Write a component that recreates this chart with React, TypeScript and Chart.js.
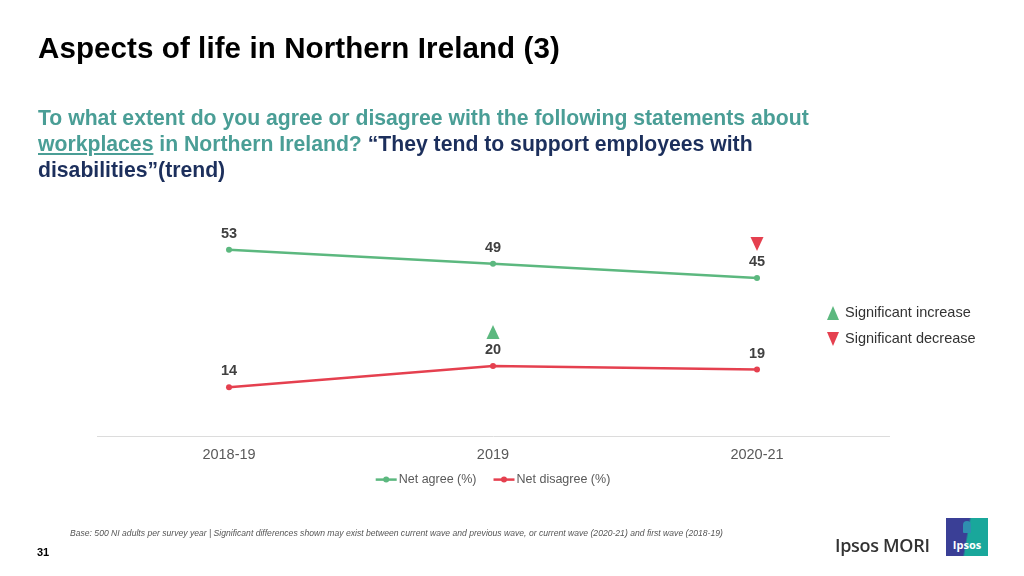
import React, { useEffect, useRef } from "react";
import { Chart, registerables } from "chart.js";

Chart.register(...registerables);

const categories = ["2018-19", "2019", "2020-21"];
const seriesNames = ["Net agree (%)", "Net disagree (%)"];
const netAgree = [53, 49, 45];
const netDisagree = [14, 20, 19];
// 1 = significant increase, -1 = significant decrease, 0 = none
const agreeSig = [0, 0, -1];
const disagreeSig = [0, 1, 0];

const GREEN = "#5cb87f";
const RED = "#e5404f";
const FONT = '"Liberation Sans", Arial, Helvetica, sans-serif';

function drawTriangle(ctx: CanvasRenderingContext2D, x: number, y: number, up: boolean, color: string) {
  const hw = 6.5;
  const hh = 7;
  ctx.fillStyle = color;
  ctx.beginPath();
  if (up) {
    ctx.moveTo(x, y - hh);
    ctx.lineTo(x + hw, y + hh);
    ctx.lineTo(x - hw, y + hh);
  } else {
    ctx.moveTo(x - hw, y - hh);
    ctx.lineTo(x + hw, y - hh);
    ctx.lineTo(x, y + hh);
  }
  ctx.closePath();
  ctx.fill();
}

const labelPlugin = {
  id: "valueLabels",
  afterDatasetsDraw(chart: any) {
    const ctx = chart.ctx as CanvasRenderingContext2D;
    const sigs = [agreeSig, disagreeSig];
    chart.data.datasets.forEach((ds: any, di: number) => {
      const meta = chart.getDatasetMeta(di);
      meta.data.forEach((pt: any, i: number) => {
        ctx.save();
        ctx.font = `bold 14.5px ${FONT}`;
        ctx.fillStyle = "#404040";
        ctx.textAlign = "center";
        ctx.textBaseline = "middle";
        ctx.fillText(String(ds.data[i]), pt.x, pt.y - 16);
        const s = sigs[di][i];
        if (s !== 0) {
          drawTriangle(ctx, pt.x, pt.y - 34, s > 0, s > 0 ? GREEN : RED);
        }
        ctx.restore();
      });
    });
  },
};

// Series key drawn under the category axis, centred on the plot
const legendPlugin = {
  id: "seriesKey",
  afterDraw(chart: any) {
    const ctx = chart.ctx as CanvasRenderingContext2D;
    const area = chart.chartArea;
    const cx = (area.left + area.right) / 2;
    const y = area.bottom + 43;
    const lineW = 21;
    const gapText = 2;
    const gapItem = 17;
    ctx.save();
    ctx.font = `12.5px ${FONT}`;
    const items = chart.data.datasets.map((ds: any) => ({
      text: ds.label as string,
      color: ds.borderColor as string,
      w: ctx.measureText(ds.label).width,
    }));
    const total = items.reduce((s: number, it: any) => s + lineW + gapText + it.w, 0) + gapItem * (items.length - 1);
    let x = cx - total / 2;
    items.forEach((it: any) => {
      ctx.strokeStyle = it.color;
      ctx.lineWidth = 2.5;
      ctx.beginPath();
      ctx.moveTo(x, y);
      ctx.lineTo(x + lineW, y);
      ctx.stroke();
      ctx.fillStyle = it.color;
      ctx.beginPath();
      ctx.arc(x + lineW / 2, y, 3, 0, Math.PI * 2);
      ctx.fill();
      ctx.fillStyle = "#595959";
      ctx.textAlign = "left";
      ctx.textBaseline = "middle";
      ctx.fillText(it.text, x + lineW + gapText, y);
      x += lineW + gapText + it.w + gapItem;
    });
    ctx.restore();
  },
};

function LineChart() {
  const ref = useRef<HTMLCanvasElement>(null);
  useEffect(() => {
    if (!ref.current) return;
    const chart = new Chart(ref.current, {
      type: "line",
      data: {
        labels: categories,
        datasets: [
          {
            label: seriesNames[0],
            data: netAgree,
            borderColor: GREEN,
            backgroundColor: GREEN,
            borderWidth: 2.5,
            pointRadius: 3,
            pointBackgroundColor: GREEN,
            pointBorderWidth: 0,
            tension: 0,
          },
          {
            label: seriesNames[1],
            data: netDisagree,
            borderColor: RED,
            backgroundColor: RED,
            borderWidth: 2.5,
            pointRadius: 3,
            pointBackgroundColor: RED,
            pointBorderWidth: 0,
            tension: 0,
          },
        ],
      },
      options: {
        animation: false,
        responsive: true,
        maintainAspectRatio: false,
        layout: { padding: { left: 97, right: 135, top: 225, bottom: 102 } },
        scales: {
          x: {
            offset: true,
            grid: { display: false, drawTicks: false },
            border: { display: true, color: "#dcdcdc", width: 1 },
            ticks: { color: "#595959", font: { family: FONT, size: 14.5 }, padding: 10 },
          },
          y: {
            display: false,
            min: 0,
            max: 60,
          },
        },
        plugins: {
          tooltip: { enabled: false },
          legend: { display: false },
        },
      },
      plugins: [labelPlugin, legendPlugin],
    });
    return () => chart.destroy();
  }, []);
  return (
    <div style={{ position: "absolute", left: 0, top: 0, width: 1024, height: 576 }}>
      <canvas ref={ref} />
    </div>
  );
}

export default function App() {
  const teal = "#4a9e96";
  const navy = "#1c2f5c";
  return (
    <div
      style={{
        position: "absolute",
        left: 0,
        top: 0,
        width: 1024,
        height: 576,
        background: "#ffffff",
        overflow: "hidden",
        fontFamily: FONT,
      }}
    >
      <LineChart />
      <div
        style={{
          position: "absolute",
          left: 38,
          top: 31,
          fontSize: 29.5,
          letterSpacing: 0.1,
          fontWeight: 700,
          color: "#000",
          whiteSpace: "nowrap",
        }}
      >
        Aspects of life in Northern Ireland (3)
      </div>
      <div
        style={{
          position: "absolute",
          left: 38,
          top: 105,
          width: 900,
          fontSize: 21.2,
          fontWeight: 700,
          lineHeight: "26px",
          color: teal,
          whiteSpace: "nowrap",
        }}
      >
        To what extent do you agree or disagree with the following statements about
        <br />
        <span style={{ textDecoration: "underline" }}>workplaces</span> in Northern Ireland?{" "}
        <span style={{ color: navy }}>“They tend to support employees with</span>
        <br />
        <span style={{ color: navy }}>disabilities”(trend)</span>
      </div>
      {/* significance key */}
      <div style={{ position: "absolute", left: 827, top: 306, width: 0, height: 0, borderLeft: "6px solid transparent", borderRight: "6px solid transparent", borderBottom: `14px solid ${GREEN}` }} />
      <div style={{ position: "absolute", left: 845, top: 304, fontSize: 14.5, color: "#333", whiteSpace: "nowrap" }}>
        Significant increase
      </div>
      <div style={{ position: "absolute", left: 827, top: 332, width: 0, height: 0, borderLeft: "6px solid transparent", borderRight: "6px solid transparent", borderTop: `14px solid ${RED}` }} />
      <div style={{ position: "absolute", left: 845, top: 330, fontSize: 14.5, color: "#333", whiteSpace: "nowrap" }}>
        Significant decrease
      </div>
      {/* footnote */}
      <div
        style={{
          position: "absolute",
          left: 70,
          top: 528,
          fontSize: 8.6,
          fontStyle: "italic",
          color: "#555",
          whiteSpace: "nowrap",
        }}
      >
        Base: 500 NI adults per survey year | Significant differences shown may exist between current wave and previous wave, or current wave (2020-21) and first wave (2018-19)
      </div>
      <div style={{ position: "absolute", left: 37, top: 546, fontSize: 11, fontWeight: 700, color: "#000" }}>31</div>
      {/* logos */}
      <div
        style={{
          position: "absolute",
          left: 835,
          top: 533,
          fontSize: 18,
          fontWeight: 600,
          fontFamily: '"Open Sans", sans-serif',
          color: "#333",
          whiteSpace: "nowrap",
          letterSpacing: -0.3,
        }}
      >
        Ipsos MORI
      </div>
      <div
        style={{
          position: "absolute",
          left: 946,
          top: 518,
          width: 42,
          height: 38,
          background: "linear-gradient(100deg, #3a3f96 0%, #3a3f96 48%, #19a79b 52%, #19a79b 100%)",
          color: "#fff",
          fontFamily: '"Open Sans", sans-serif',
          fontWeight: 700,
          fontSize: 11,
          textAlign: "center",
          lineHeight: "12px",
        }}
      >
        <div style={{ width: 8, height: 12, margin: "3px auto 6px", background: "#2f8fb0", borderRadius: "4px 4px 1px 1px" }} />
        Ipsos
      </div>
    </div>
  );
}
